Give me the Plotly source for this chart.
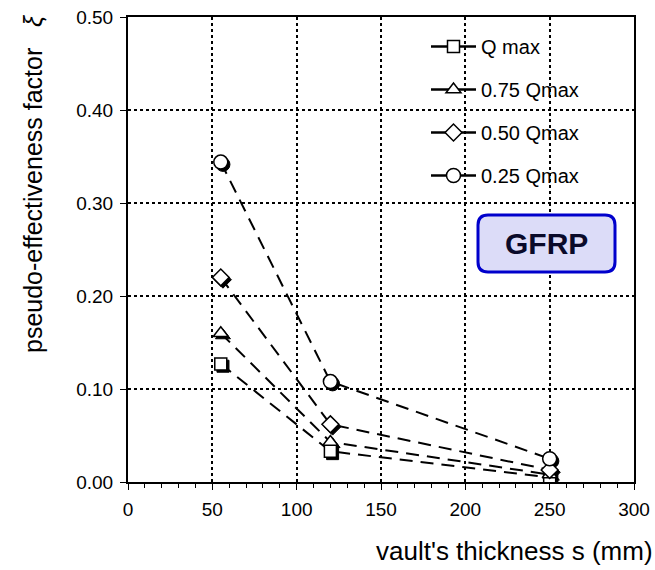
import plotly.graph_objects as go

thickness = [55, 120, 250]
series_names = ["Q max", "0.75 Qmax", "0.50 Qmax", "0.25 Qmax"]
xi_qmax = [0.127, 0.033, 0.005]
xi_075 = [0.160, 0.043, 0.008]
xi_050 = [0.220, 0.062, 0.013]
xi_025 = [0.344, 0.108, 0.025]
x_ticks = [0, 50, 100, 150, 200, 250, 300]
y_ticks = [0.0, 0.1, 0.2, 0.3, 0.4, 0.5]

series = [xi_qmax, xi_075, xi_050, xi_025]
fill_symbols = ["square", "triangle-up", "diamond", "circle"]
sizes = [12, 13, 13, 14]

FONT = "Liberation Sans, Arial, sans-serif"

L, R, T, B = 128, 655 - 634, 17, 570 - 482
W, H = 655 - L - R, 570 - T - B

def fx(p):  # px -> paper x
    return (p - L) / W

def fy(p):  # px -> paper y
    return (570 - B - p) / H

fig = go.Figure()

# shadows (drawn behind markers)
for ys, sym, sz in zip(series, fill_symbols, sizes):
    fig.add_trace(go.Scatter(
        x=[v + 1.3 for v in thickness], y=[v - 0.0025 for v in ys],
        mode="markers", showlegend=False, hoverinfo="skip",
        marker=dict(symbol=sym, size=sz, color="black",
                    line=dict(color="black", width=1))))

for name, ys, sym, sz in zip(series_names, series, fill_symbols, sizes):
    fig.add_trace(go.Scatter(
        x=thickness, y=ys, mode="lines+markers", name=name, showlegend=False,
        line=dict(color="black", width=2, dash="13px,8px"),
        marker=dict(symbol=sym, size=sz, color="white",
                    line=dict(color="black", width=1.5))))

# legend entries with solid lines
for i, (name, sym, sz) in enumerate(zip(series_names, fill_symbols, sizes)):
    fig.add_trace(go.Scatter(
        x=[None], y=[None], mode="lines+markers", name=name,
        legendgroup=f"g{i}",
        line=dict(color="black", width=2.5),
        marker=dict(symbol=sym, size=sz, color="white",
                    line=dict(color="black", width=1.5))))

axis_common = dict(
    showline=True, linecolor="black", linewidth=2, mirror=True,
    showgrid=True, gridcolor="black", gridwidth=2, griddash="dot",
    zeroline=False, ticks="outside", tickcolor="black", ticklen=6,
    ticklabeloverflow="allow", automargin=False, ticklabelstandoff=3,
    tickfont=dict(family=FONT, size=19, color="black"),
)

fig.update_xaxes(range=[0, 300], tickvals=x_ticks, ticktext=[str(v) for v in x_ticks],
                 minor=dict(dtick=10, ticks="outside", ticklen=4, tickcolor="black", showgrid=False),
                 **axis_common)
fig.update_yaxes(range=[0, 0.5], tickvals=y_ticks, ticktext=[f"{v:.2f}" for v in y_ticks],
                 **axis_common)

# GFRP rounded box
px0, px1, py0, py1 = 478, 615, 215, 272
r = 10
x0, x1, y0, y1 = fx(px0), fx(px1), fy(py1), fy(py0)
rx, ry = r / W, r / H
path = (f"M {x0+rx},{y1} L {x1-rx},{y1} Q {x1},{y1} {x1},{y1-ry} "
        f"L {x1},{y0+ry} Q {x1},{y0} {x1-rx},{y0} L {x0+rx},{y0} "
        f"Q {x0},{y0} {x0},{y0+ry} L {x0},{y1-ry} Q {x0},{y1} {x0+rx},{y1} Z")
fig.add_shape(type="path", path=path, xref="paper", yref="paper",
              fillcolor="#dcdcf8", line=dict(color="#0000cc", width=3))
fig.add_annotation(text="<b>GFRP</b>", x=(x0 + x1) / 2, y=(y0 + y1) / 2,
                   xref="paper", yref="paper", showarrow=False,
                   xanchor="center", yanchor="middle",
                   font=dict(family=FONT, size=30, color="#0a0a2a"))

fig.add_annotation(text="pseudo-effectiveness factor   <i>ξ</i>", textangle=-90,
                   x=fx(33), y=fy(184), xref="paper", yref="paper",
                   xanchor="center", yanchor="middle", showarrow=False,
                   font=dict(family=FONT, size=25, color="black"))
fig.add_annotation(text="vault's thickness s (mm)",
                   x=fx(655), y=fy(551), xref="paper", yref="paper",
                   xanchor="right", yanchor="middle", showarrow=False,
                   font=dict(family=FONT, size=26, color="black"))

fig.update_layout(
    width=655, height=570,
    margin=dict(l=L, r=R, t=T, b=B, autoexpand=False),
    paper_bgcolor="white", plot_bgcolor="white",
    legend=dict(x=fx(426), y=fy(27), xanchor="left", yanchor="top",
                bgcolor="rgba(255,255,255,0)", tracegroupgap=14, itemwidth=45,
                font=dict(family=FONT, size=20, color="black")),
)

fig.write_html("out.html", config={"displayModeBar": False},
               post_script="document.body.style.margin='0';")
